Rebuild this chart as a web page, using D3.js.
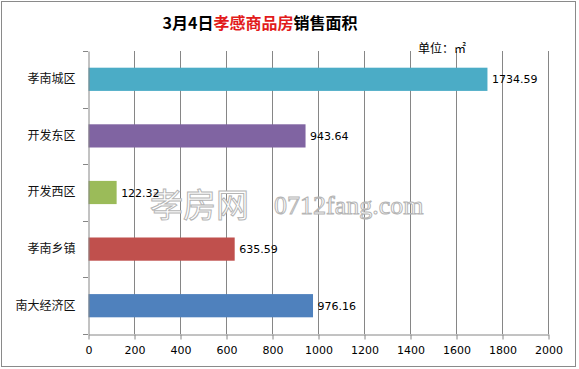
<!DOCTYPE html>
<html><head><meta charset="utf-8">
<script src="https://cdn.jsdelivr.net/npm/d3@7/dist/d3.min.js"></script>
<style>body{margin:0;background:#fff}svg{display:block}</style>
</head><body>
<svg id="c" width="579" height="369"></svg>
<script>
const categories = ["孝南城区","开发东区","开发西区","孝南乡镇","南大经济区"];
const values = [1734.59, 943.64, 122.32, 635.59, 976.16];
const colors = ["#4BACC6","#8064A2","#9BBB59","#C0504D","#4F81BD"];
const xTicks = [0,200,400,600,800,1000,1200,1400,1600,1800,2000];

const svg = d3.select("#c");
const font = "'Noto Sans CJK SC', sans-serif";
const latin = "'DejaVu Sans', 'Noto Sans', sans-serif";
const grid = "#868686";

svg.append("rect").attr("x",1.5).attr("y",1.5).attr("width",574).attr("height",365)
  .attr("fill","#fff").attr("stroke","#8a8a8a").attr("stroke-width",1);

const L = 88, R = 548, T = 51, B = 334;
const x = d3.scaleLinear().domain([0,2000]).range([L,R]);
const y = d3.scaleBand().domain(categories).range([T,B]).paddingInner(0.59).paddingOuter(0.295);
const band = d3.scaleBand().domain(categories).range([T,B]);

// gridlines
svg.append("g").selectAll("line").data(xTicks.slice(1)).join("line")
  .attr("x1",d=>Math.round(x(d))+0.5).attr("x2",d=>Math.round(x(d))+0.5)
  .attr("y1",T).attr("y2",B).attr("stroke",grid).attr("stroke-width",1);

// watermark
const wm = svg.append("g").attr("fill","#fff").attr("stroke","#b5b5b5").attr("stroke-width",1);
wm.append("text").attr("x",150).attr("y",217).attr("font-family",font).attr("font-size",33)
  .attr("font-weight","normal").text("孝房网");
wm.append("text").attr("x",274).attr("y",214).attr("font-family","'Liberation Serif', serif").attr("font-size",26)
  .text("0712fang.com");

// bars
svg.append("g").selectAll("rect").data(categories).join("rect")
  .attr("x",L+0.5).attr("y",d=>y(d)).attr("height",y.bandwidth())
  .attr("width",(d,i)=>x(values[i])-L).attr("fill",(d,i)=>colors[i]);

// value labels
svg.append("g").selectAll("text").data(categories).join("text")
  .attr("x",(d,i)=>x(values[i])+5).attr("y",d=>y(d)+y.bandwidth()/2+4)
  .attr("font-family",latin).attr("font-size",11).attr("fill","#000")
  .text((d,i)=>values[i].toFixed(2));

// y axis
const yAxis = d3.axisLeft(band).tickSize(0).tickPadding(13).tickSizeOuter(0);
const gy = svg.append("g").attr("transform",`translate(${L+0.5},0)`).call(yAxis);
gy.select(".domain").attr("stroke",grid);
gy.selectAll("text").attr("font-family",font).attr("font-size",12).attr("fill","#111");
// category separator ticks
svg.append("g").selectAll("line").data(categories).join("line")
  .attr("x1",L-5).attr("x2",L).attr("y1",d=>Math.round(band(d)+band.bandwidth())+0.5)
  .attr("y2",d=>Math.round(band(d)+band.bandwidth())+0.5).attr("stroke",grid);
svg.append("line").attr("x1",L-5).attr("x2",L).attr("y1",T+0.5).attr("y2",T+0.5).attr("stroke",grid);

// x axis
const xAxis = d3.axisBottom(x).tickValues(xTicks).tickFormat(d3.format("d")).tickSize(5).tickPadding(7).tickSizeOuter(0);
const gx = svg.append("g").attr("transform",`translate(0.5,${B+0.5})`).call(xAxis);
gx.select(".domain").attr("stroke",grid);
gx.selectAll(".tick line").attr("stroke",grid);
gx.selectAll("text").attr("font-family",latin).attr("font-size",11).attr("fill","#000");

// title
const t = svg.append("text").attr("x",260).attr("y",29).attr("text-anchor","middle")
  .attr("font-family",font).attr("font-size",16).attr("font-weight","bold");
t.append("tspan").attr("fill","#000").text("3月4日");
t.append("tspan").attr("fill","#E21B1B").text("孝感商品房");
t.append("tspan").attr("fill","#000").text("销售面积");

svg.append("text").attr("x",418).attr("y",53).attr("font-family",font).attr("font-size",12)
  .attr("fill","#000").text("单位：㎡");
</script>
</body></html>
